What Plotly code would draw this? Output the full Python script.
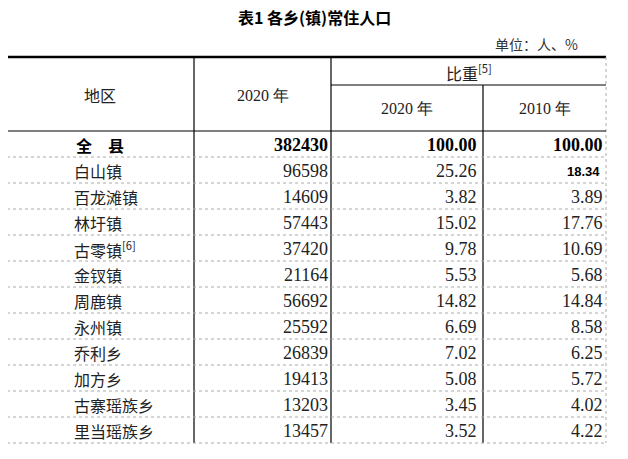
import plotly.graph_objects as go

regions = ["全　县", "白山镇", "百龙滩镇", "林圩镇", "古零镇<sup>[6]</sup>", "金钗镇", "周鹿镇",
           "永州镇", "乔利乡", "加方乡", "古寨瑶族乡", "里当瑶族乡"]
pop2020 = [382430, 96598, 14609, 57443, 37420, 21164, 56692, 25592, 26839, 19413, 13203, 13457]
share2020 = ["100.00", "25.26", "3.82", "15.02", "9.78", "5.53", "14.82", "6.69", "7.02", "5.08", "3.45", "3.52"]
share2010 = ["100.00", "18.34", "3.89", "17.76", "10.69", "5.68", "14.84", "8.58", "6.25", "5.72", "4.02", "4.22"]

W, H = 628, 459
OFF = 8  # page body margin
L, R = 7, 606
C1, C2, C3 = 194, 331, 483
TOP, SUB, HB = 57, 85, 131
RH = 26
CJK = "Noto Sans CJK SC"
SERIF = "Liberation Serif, DejaVu Serif, serif"

fig = go.Figure()
shapes = []
def line(x0, y0, x1, y1, w=1, c="black", dash="solid"):
    shapes.append(dict(type="line", x0=x0, y0=y0, x1=x1, y1=y1, xref="x", yref="y",
                       line=dict(color=c, width=w, dash=dash)))

n = len(regions)
bottom = HB + n * RH
line(L, TOP, R, TOP, 2.5)
line(L, TOP, L, bottom, 1, "#aaaaaa", "dot")
line(R, TOP, R, bottom, 1, "#aaaaaa", "dot")
line(C2, SUB, R, SUB, 1)
line(L, HB, R, HB, 1.2)
for x in (C1, C2):
    line(x, TOP, x, bottom, 1.2)
line(C3, SUB, C3, bottom, 1.2)
for i in range(1, n + 1):
    line(L, HB + i * RH, R, HB + i * RH, 1, "#aaaaaa", "dot")

ann = []
def txt(x, y, s, size=14, fam=CJK, anchor="center", color="#222", bold=False):
    if bold:
        s = "<b>" + s + "</b>"
    ann.append(dict(x=x, y=y, text=s, showarrow=False, xanchor=anchor, yanchor="middle",
                    font=dict(size=size, family=fam, color=color), xref="x", yref="y"))

txt(W / 2, 17, "表1 各乡(镇)常住人口", 16, CJK, bold=True, color="black")
txt(580, 44, "单位：人、%", 14, CJK, "right", "#333")
txt(100, 95, "地区", 16)
txt((C1 + C2) / 2, 95, "2020 年", 16, SERIF)
txt((C2 + R) / 2, 72, "比重<sup>[5]</sup>", 16)
txt((C2 + C3) / 2, 108, "2020 年", 16, SERIF)
txt((C3 + R) / 2, 108, "2010 年", 16, SERIF)

for i in range(n):
    y = HB + i * RH + RH / 2 + 1
    b = i == 0
    if b:
        txt(100, y, regions[i], 16, CJK, bold=True, color="black")
    else:
        txt(72, y, regions[i], 16, CJK, "left")
    c = "black" if b else "#222"
    txt(C2 - 1, y, str(pop2020[i]), 18, SERIF, "right", c, b)
    txt(C3 - 4, y, share2020[i], 18, SERIF, "right", c, b)
    if i == 1:
        txt(R - 4, y, share2010[i], 13, "Liberation Sans, Arial", "right", "black", True)
    else:
        txt(R - 1, y, share2010[i], 18, SERIF, "right", c, b)

fig.update_layout(width=W, height=H, margin=dict(l=0, r=0, t=0, b=0),
                  plot_bgcolor="white", paper_bgcolor="white", shapes=shapes, annotations=ann,
                  xaxis=dict(range=[OFF, W + OFF], visible=False, fixedrange=True),
                  yaxis=dict(range=[H + OFF, OFF], visible=False, fixedrange=True), showlegend=False)
fig.write_html("out.html")
